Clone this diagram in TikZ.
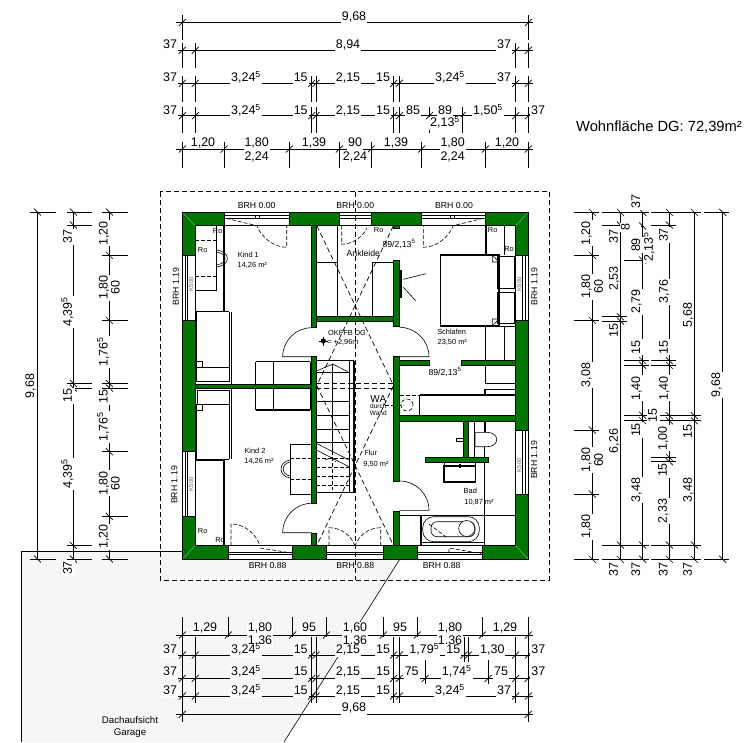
\documentclass[tikz,border=0pt]{standalone}
\usepackage{fontspec}
\usetikzlibrary{positioning}
\setmainfont{Liberation Sans}
\definecolor{wallgreen}{RGB}{0,118,0}
\definecolor{roofgray}{RGB}{246,246,246}
\newcommand{\five}{\textsuperscript{5}}
\newcommand{\hchain}[6]{
  \draw[dim line] (#2,#1) -- (#3,#1);
  \foreach \t in {#6} {
    \draw[dim line] (\t,#4) -- (\t,#5);
    \draw[dim line] (\t-3.5,#1+3.5) -- (\t+3.5,#1-3.5);
  }
}
\newcommand{\vchain}[6]{
  \draw[dim line] (#1,#2) -- (#1,#3);
  \foreach \t in {#6} {
    \draw[dim line] (#4,\t) -- (#5,\t);
    \draw[dim line] (#1-3.5,\t-3.5) -- (#1+3.5,\t+3.5);
  }
}
\newcommand{\labels}[4]{
  \foreach \px/\py/\s [count=\i] in {#4}
    \node[#2, rotate=#1] (#3\i) at (\px,\py) {\s};
}
\begin{document}
\begin{tikzpicture}[x=1pt, y=-1pt,
    dim line/.style={line width=0.7pt},
    dim bare/.style={font=\fontsize{12.5}{14}\selectfont, inner sep=1pt, text height=9pt, text depth=2pt},
    dim text/.style={dim bare, fill=white},
    plan text/.style={font=\fontsize{7.4}{9}\selectfont, inner sep=0pt},
    brh text/.style={font=\fontsize{8.7}{10}\selectfont, inner sep=0pt},
    ro text/.style={font=\fontsize{7.4}{9}\selectfont, inner sep=0pt},
    glass text/.style={font=\fontsize{6}{7}\selectfont, inner sep=0pt, text=black!60},
    wall/.style={fill=wallgreen, draw=black, line width=0.8pt},
    thin line/.style={draw=black, line width=0.6pt},
    thick line/.style={draw=black, line width=1.5pt},
    plan dash/.style={draw=black, line width=0.7pt, dash pattern=on 5pt off 3pt},
    swing dash/.style={draw=black, line width=0.6pt, dash pattern=on 4pt off 2pt}]
  \useasboundingbox (0,0) rectangle (755,742);

  \fill[roofgray] (21.3,742) -- (21.3,551.3) -- (182,551.3) -- (182,560) -- (399.3,560) -- (284,742) -- cycle;
  \draw[thin line] (21.3,742) -- (21.3,551.3) -- (182,551.3);
  \draw[thin line] (399.3,560) -- (284,742);

  \fill[white] (182.3,212.3) rectangle (528.3,559.3);

  \draw[thin line] (316.3,262.3) -- (337.7,262.3);
  \draw[thick line] (337.7,225.7) -- (337.7,316.7);
  \draw[thin line] (372.7,316.7) -- (372.7,262.3) -- (393.7,262.3);

  \draw[thick line] (224,225.7) -- (224,311.7);
  \draw[thin line] (216.7,225.7) -- (216.7,290.3) -- (195,290.3);
  \draw[swing dash] (195,240.3) -- (216.7,240.3) (195,276) -- (216.7,276);
  \draw[thin line] (216.7,250) .. controls (231,252) and (231,265) .. (216.7,267);
  \draw[thin line] (216.7,252) .. controls (228,254) and (228,263) .. (216.7,265);
  \draw[thin line] (231.7,311.7) -- (231.7,384);
  \draw[thin line] (196.3,367.3) rectangle (229,381.5);
  \draw[thin line] (196.3,361) -- (202,361) -- (202,367.3);
  \draw[thick line] (196.3,367.3) -- (196.3,311.7) -- (229,311.7);
  \draw[thin line] (229,311.7) -- (229,367.3);

  \draw[thin line] (197,390.5) rectangle (229,404);
  \draw[thin line] (231.7,388) -- (231.7,459.3);
  \draw[thin line] (196.3,410) -- (202,410) -- (202,404);
  \draw[thick line] (196.3,404) -- (196.3,459.3) -- (229,459.3);
  \draw[thin line] (229,404) -- (229,459.3);
  \draw[thick line] (195,460) -- (224,460) -- (224,545.7);

  \draw[thick line] (255.7,361.7) -- (310,361.7);
  \draw[thick line] (255.7,410) -- (310,410);
  \draw[thin line] (255.7,361.7) -- (255.7,410) (273.7,361.7) -- (273.7,410) (310,361.7) -- (310,410);

  \draw[thin line] (311.7,444.3) -- (290,444.3) -- (290,494.3);
  \draw[thick line] (290,494.3) -- (311.7,494.3);
  \draw[swing dash] (290,458.3) -- (311.7,458.3) (290,479) -- (311.7,479);
  \draw[thin line] (290,460) .. controls (278,462) and (278,476) .. (290,478);
  \draw[thin line] (290,462) .. controls (281,464) and (281,474) .. (290,476);

  \draw[thick line] (316.3,360.7) -- (354,360.7);
  \draw[thick line] (316.3,492.7) -- (354,492.7);
  \draw[thin line] (349,360.7) -- (349,492.7);
  \draw[thick line] (354,360.7) -- (354,492.7);
  \draw[thin line] (332.7,364) -- (332.7,451);
  \foreach \y in {372,401,415,429,442}
    \draw[thin line] (316.3,\y) -- (349,\y);
  \foreach \y in {458,467,476,485}
    \draw[swing dash] (316.3,\y) -- (349,\y);
  \draw[swing dash] (332.7,451) -- (332.7,490);
  \draw[thin line] (317.3,370.7) -- (332.7,364) -- (347.7,371.7);
  \draw[thin line] (316.3,443.3) -- (349,460) (316.3,450) -- (349,466.7);
  \draw[swing dash] (325,460) -- (331,457.5) -- (336,462);
  \draw[plan dash] (316.3,383.3) -- (393.7,383.3) (316.3,388.3) -- (393.7,388.3);

  \draw[thin line] (400,270.3) rectangle (401.7,297.3);
  \draw[thin line] (403.3,279.3) -- (426,273.7) (403.3,287.3) -- (415.7,300.7);

  \draw[thick line] (486,225.7) -- (486,255);
  \draw[thick line] (486,225.7) -- (504.3,225.7);
  \draw[thin line] (504.3,225.7) -- (504.3,255) (504.3,326) -- (504.3,360);
  \draw[thin line] (497,256) rectangle (514,288);
  \draw[thin line] (497,292.3) rectangle (514,323.3);
  \draw[thin line] (499,326) -- (515.7,326);
  \draw[thick line] (440.7,255) rectangle (499,326);
  \draw[thin line] (492.3,255) -- (492.3,262) -- (499,262) -- cycle;
  \draw[thin line] (492.3,326) -- (492.3,319) -- (499,319) -- cycle;

  \draw[thick line] (485.7,326) -- (485.7,383.3) -- (515.7,383.3);
  \draw[thick line] (485,389.3) -- (515.7,389.3);
  \draw[thick line] (485,389.3) -- (485,395);
  \draw[thick line] (419.7,395) -- (515.7,395);
  \draw[thin line] (419.7,395) -- (419.7,415.7);
  \draw[swing dash] (399.7,395) -- (419.7,395);
  \draw[swing dash] (407,405) circle (6pt);
  \draw[swing dash] (385,405) -- (401,405);

  \draw[thin line] (474.3,421) -- (474.3,457.3);
  \draw[thick line] (485,421) -- (485,433);
  \draw[thick line] (484.5,447) -- (484.5,545.7) -- (515.7,545.7);
  \draw[thin line, fill=white] (475,432.3) -- (487,432.3) .. controls (500,432.3) and (500,446.7) .. (487,446.7) -- (475,446.7) -- cycle;
  \draw[thin line] (456.7,438.3) rectangle (463.5,441);
  \draw[thin line] (444,462) -- (444,466) (475.3,462) -- (475.3,466);
  \draw[thick line] (444,466) rectangle (475.3,482);
  \draw[thick line] (460,463.5) -- (460,468);
  \draw[thin line] (400,515.3) -- (515.7,515.3);
  \draw[thick line] (421,515.3) -- (421,545.7);
  \draw[thick line] (421,542.3) -- (484.5,542.3);
  \draw[thin line, rounded corners=11pt] (422.7,516.7) rectangle (479.3,541.7);
  \draw[thin line, rounded corners=6pt] (431,521.7) rectangle (475,536.7);
  \draw[thin line, fill=white] (466.7,528.5) circle (8pt);
  \draw[swing dash] (429,524) -- (446,537);

  \fill[wallgreen, even odd rule] (182.3,212.3) rectangle (528.3,559.3) (195,225.7) rectangle (515.7,545.7);
  \draw[thin line, wallgreen!60!white] (182.3,212.3) -- (195,225.7) (528.3,212.3) -- (515.7,225.7) (182.3,559.3) -- (195,545.7) (528.3,559.3) -- (515.7,545.7);
  \draw[line width=1pt] (182.3,212.3) rectangle (528.3,559.3);
  \draw[line width=1pt] (195,225.7) rectangle (515.7,545.7);
  \foreach \xa/\ya/\xb/\yb in {311.7/225.7/316.3/327.7, 311.7/356.7/316.3/503.3, 311.7/533/316.3/545.7,
      195/384/311.7/388, 316.3/316.7/393.7/321, 393.7/260.3/399.7/326.7, 393.7/225.7/399.7/228.5,
      393.7/356.7/399.7/481, 393.7/511/399.7/545.7, 399.7/360.3/429.7/365.3, 461.3/360.3/515.7/365.3,
      399.7/415.7/515.7/421, 463.5/421/468.5/457.3, 425.3/457.3/488.3/462}
    \draw[wall] (\xa,\ya) rectangle (\xb,\yb);

  \foreach \a/\b in {224.3/289.3, 339.3/371.7, 421.7/485.7} {
    \draw[thin line, fill=white] (\a,212.3) rectangle (\b,225.7);
    \draw[thin line] (\a,215) -- (\b,215) (\a,218.3) -- (\b,218.3);
  }
  \foreach \a/\b in {228.3/292.3, 326.7/383.3, 417.7/482.3} {
    \draw[thin line, fill=white] (\a,545.7) rectangle (\b,559.3);
    \draw[thin line] (\a,552.3) -- (\b,552.3) (\a,554.3) -- (\b,554.3);
  }
  \foreach \a/\b in {255.3/320.3, 451.3/516} {
    \draw[thin line, fill=white] (182.3,\a) rectangle (195,\b);
    \draw[thin line] (185.7,\a) -- (185.7,\b) (187.7,\a) -- (187.7,\b);
  }
  \foreach \a/\b in {255.3/320.3, 430.7/494.3} {
    \draw[thin line, fill=white] (515.7,\a) rectangle (528.3,\b);
    \draw[thin line] (522.3,\a) -- (522.3,\b) (525,\a) -- (525,\b);
  }
  \foreach \m in {255,259,450,454,355}
    \draw[thin line] (\m,215) -- (\m,218.3);

  \draw[thin line] (311.7,327.7) .. controls (295.7,327.7) and (282.7,340.7) .. (282.7,356.7) -- (311.7,356.7);
  \draw[thin line] (311.7,503.3) .. controls (295.7,503.3) and (282.7,516.3) .. (282.7,532.7) -- (311.7,532.7);
  \draw[thin line] (399.7,327.3) .. controls (415.7,327.3) and (429,340.7) .. (429,356.7) -- (399.7,356.7);
  \draw[thin line] (399.7,481) .. controls (415.7,481) and (429,494) .. (429,510.3) -- (399.7,510.3);

  \draw[swing dash] (226,218.3) -- (256.7,225.7) .. controls (262,238) and (274,247.3) .. (286.7,247.3) -- (286.7,225.7);
  \draw[swing dash] (341.7,225.7) -- (341.7,244.3) .. controls (352,244) and (362,238) .. (366.7,228.3);
  \draw[swing dash] (483.3,218.3) -- (453.3,225.7) .. controls (448,238) and (436,247.3) .. (423.3,247.3) -- (423.3,225.7);
  \draw[swing dash] (231,545.7) -- (231,524) .. controls (245,524) and (256,534) .. (260,545.7);
  \draw[swing dash] (260,548) -- (291.7,553);
  \draw[swing dash] (329,545.7) -- (329,527.7) .. controls (341,527.7) and (351,535) .. (355,545.7);
  \draw[swing dash] (380.7,545.7) -- (380.7,527.7) .. controls (369,527.7) and (359,535) .. (355,545.7);
  \draw[swing dash] (449,553) -- (449,548) -- (481,553.5);

  \draw[plan dash] (160.3,191.7) rectangle (549.3,580);
  \draw[plan dash] (355.3,191.7) -- (355.3,580);
  \draw[plan dash] (317,226) -- (393.3,385) (393.3,226) -- (317,385);
  \draw[plan dash] (317,386) -- (393.3,545) (393.3,386) -- (317,545);

  \fill (323.3,341) circle (2.6pt);
  \draw[thin line] (318.5,341) -- (328,341) (323.3,336.5) -- (323.3,345.5);

  \labels{0}{brh text}{brh}{256.7/205.5/BRH 0.00, 355.3/205.5/BRH 0.00, 454/205.5/BRH 0.00, 267.7/565.7/BRH 0.88, 355.3/565.7/BRH 0.88, 441.7/565.7/BRH 0.88}
  \labels{90}{brh text}{brv}{176/286.7/BRH 1.19, 174.3/485/BRH 1.19, 534.3/286.7/BRH 1.19, 534/460/BRH 1.19}
  \labels{90}{glass text}{kso}{191/284/K500, 191/484.3/K500, 519.3/284/K500, 519.3/465/K500}
  \labels{0}{ro text}{ro}{217.7/231/Ro, 202.7/250.3/Ro, 202.7/531/Ro, 220/540.3/Ro, 492.7/230/Ro, 509/249.3/Ro, 378.7/230/Ro}
  \labels{0}{plan text}{room}{248.3/255.3/Kind 1, 252.3/265/{14,26 m²}, 255/451/Kind 2, 259/461/{14,26 m²}, 451.7/331.7/Schlafen, 452.3/342.3/{23,50 m²}, 370.7/453.3/Flur, 376/464/{9,50 m²}, 470.3/491/Bad, 479/502/{10,87 m²}, 343/342.3/{= +2,96m}, 347/333/OKFFB DG}
  \labels{0}{plan text, font=\fontsize{8.7}{10}\selectfont}{door}{363.3/253.3/Ankleide, 399/244.3/{89/2,13\textsuperscript{5}}, 445/372.3/{89/2,13\textsuperscript{5}}}
  \node[font=\fontsize{10}{12}\selectfont, inner sep=0pt] (wa) at (378.3,399.3) {WA};
  \node[font=\fontsize{6.5}{8}\selectfont, inner sep=0pt, align=center, below=1pt of wa] (wand) {durch\\[-1pt]Wand};

  \node[font=\fontsize{14.7}{16}\selectfont, anchor=west, inner sep=0pt] (area) at (576,127) {Wohnfläche DG: 72,39m²};
  \node[font=\fontsize{9.7}{11.5}\selectfont, align=center, inner sep=0pt] (garage) at (130,727) {Dachaufsicht\\Garage};

  \hchain{22.5}{176}{533}{15}{40}{182.3,528.3}
  \labels{0}{dim text}{a}{354/17/{9,68}}
  \hchain{50.3}{176}{533}{43}{68}{182.3,195.3,515.7,528.3}
  \labels{0}{dim text}{b}{170/45/37, 348/45/{8,94}, 504/45/37}
  \hchain{83.3}{176}{533}{76}{101.7}{182.3,195.3,311.7,316,393.7,399.3,515.7,528.3}
  \labels{0}{dim text}{c}{170/78/37, 246/78/{3,24\five}, 300.7/78/15, 348/78/{2,15}, 383/78/15, 450/78/{3,24\five}, 504/78/37}
  \hchain{115.7}{176}{533}{107}{133}{182.3,195.3,311.7,316,393.7,399.3,429.3,462,515.7,528.3}
  \labels{0}{dim text}{d}{170/111/37, 246/111/{3,24\five}, 300.7/111/15, 348/111/{2,15}, 383/111/15, 413/111/85, 445/111/89, 488/111/{1,50\five}, 538/111/37, 445/123/{2,13\five}}
  \hchain{149}{176}{533}{141.7}{167.7}{182.3,224,289.3,339.3,371,421.7,485.3,528.3}
  \labels{0}{dim bare}{e}{203/143/{1,20}, 314/143/{1,39}, 396/143/{1,39}, 507/143/{1,20}}
  \labels{0}{dim text}{f}{256.7/143/{1,80}, 355/143/90, 452.7/143/{1,80}, 256.7/157/{2,24}, 355/157/{2,24}, 452.7/157/{2,24}}

  \vchain{37.3}{212}{559}{30}{56}{212,559}
  \labels{90}{dim text}{g}{30.7/386/{9,68}}
  \vchain{73.3}{212}{559}{66.7}{91.7}{212,225,383.3,388,545.3,559}
  \labels{90}{dim text}{h}{68.3/236.7/37, 68.3/311.7/{4,39\five}, 68.3/395.7/15, 68.3/474/{4,39\five}, 68.3/568/37}
  \vchain{109.3}{212}{559}{101.7}{127.7}{212,255.3,320.3,383.3,388,451.7,516.3,559}
  \labels{90}{dim text}{k}{104/233.3/{1,20}, 116/287.7/60, 104/287.7/{1,80}, 104/351.7/{1,76\five}, 104/396.7/15, 104/426.7/{1,76\five}, 116/483.3/60, 104/483.3/{1,80}, 104/536.7/{1,20}}

  \labels{90}{dim bare}{m}{614.3/236.7/37, 614.3/278.3/{2,53}, 614.3/330.7/15, 614.3/441/{6,26}, 614.3/569.3/37, 688.3/315/{5,68}, 688.3/431.7/15, 688.3/490/{3,48}, 688.3/569.3/37}
  \vchain{592.3}{212.3}{559.3}{574.3}{599.3}{212.3,255.3,320.3,430,494,559.3}
  \labels{90}{dim text}{n}{586.7/233.3/{1,20}, 599.3/286.7/60, 586.7/286.7/{1,80}, 586.7/375/{3,08}, 599.3/460/60, 586.7/460/{1,80}, 586.7/526.7/{1,80}}
  \vchain{620.3}{212.3}{559.3}{601.7}{626.7}{212.3,225,316.7,321,545,559.3}
  \vchain{642.7}{212.3}{559.3}{624}{649.3}{212.3,260,360.7,365.3,415.3,420.7,545,559.3}
  \vchain{642.7}{226}{226}{641}{644}{226}
  \labels{90}{dim text}{p}{636.7/201.7/37, 626/227.3/8, 636.7/245/89, 649.3/246.7/{2,13\five}, 636.7/301.7/{2,79}, 636.7/347.3/15, 636.7/388.3/{1,40}, 636.7/430/15, 636.7/490/{3,48}, 636.7/569.3/37}
  \vchain{669.3}{212.3}{559.3}{651}{676}{212.3,225,360.7,365.3,415.7,420.7,457.3,461.7,545,559.3}
  \labels{90}{dim text}{q}{653.3/415.7/15, 664.3/235/37, 664.3/291.7/{3,76}, 664.3/347.3/15, 664.3/388.3/{1,40}, 663.3/438.3/{1,00}, 663.3/470/15, 663.3/511/{2,33}, 664/569.3/37}
  \vchain{694.3}{212.3}{559.3}{676}{701}{212.3,415.7,420.7,545,559.3}
  \vchain{722.7}{212.3}{559.3}{704}{729}{212.3,559.3}
  \labels{90}{dim text}{r}{716.7/385/{9,68}}

  \hchain{635}{176}{533}{617}{637}{182.3,228.3,292.7,326.3,383.3,417.3,482.3,528.3}
  \labels{0}{dim text}{s}{205/628/{1,29}, 260/641/{1,36}, 260/628/{1,80}, 309/628/95, 355/641/{1,36}, 355/628/{1,60}, 400/628/95, 450/641/{1,36}, 450/628/{1,80}, 505/628/{1,29}}
  \hchain{655}{176}{533}{637}{662}{182.3,195.3,311.7,316,393.7,399.3,464,468.3,515.7,528.3}
  \labels{0}{dim text}{u}{170/650/37, 246/650/{3,24\five}, 300.7/650/15, 348/650/{2,15}, 383/650/15, 424.3/650/{1,79\five}, 453.3/650/15, 492.3/650/{1,30}, 538.3/650/37}
  \hchain{678.3}{176}{533}{660}{684}{182.3,195.3,311.7,316,393.7,399.3,425.3,488.3,515.7,528.3}
  \labels{0}{dim text}{v}{170/672/37, 246/672/{3,24\five}, 300.7/672/15, 348/672/{2,15}, 383/672/15, 411.7/672/75, 456.7/672/{1,74\five}, 501/672/75, 538.3/672/37}
  \hchain{696}{176}{533}{684}{703}{182.3,195.3,311.7,316,393.7,399.3,515.7,528.3}
  \labels{0}{dim text}{w}{170/691/37, 246/691/{3,24\five}, 300.7/691/15, 348/691/{2,15}, 383/691/15, 450/691/{3,24\five}, 504/691/37}
  \hchain{714.3}{176}{533}{703}{722}{182.3,528.3}
  \labels{0}{dim text}{z}{354/708/{9,68}}
\end{tikzpicture}
\end{document}
